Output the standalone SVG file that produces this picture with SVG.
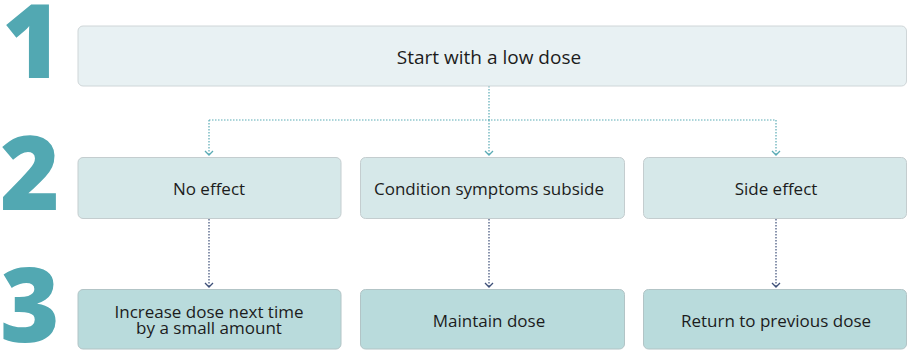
<svg xmlns="http://www.w3.org/2000/svg" width="909" height="350" viewBox="0 0 909 350">
<defs>
<style>
.num{font-family:"Open Sans","Noto Sans",sans-serif;font-weight:800;font-size:102px;fill:#52a8b2}
.lbl{font-family:"Open Sans","Noto Sans",sans-serif;font-weight:500;font-size:17px;fill:#1c1c1c;text-anchor:middle}
.big{font-size:19px}
.b1{fill:#e8f1f3;stroke:#cfd6d8;stroke-width:1}
.b2{fill:#d6e8e9;stroke:#c4cdcf;stroke-width:1}
.b3{fill:#b9dbdc;stroke:#b2c4c6;stroke-width:1}
.ct{fill:none;stroke:#5aabb5;stroke-width:1.2;stroke-dasharray:1.5 1.5}
.cn{fill:none;stroke:#3d4f78;stroke-width:1.2;stroke-dasharray:1.5 1.5}
</style>
<marker id="at" markerWidth="8" markerHeight="10" refX="6" refY="5" orient="auto" markerUnits="userSpaceOnUse" viewBox="0 0 8 10">
<path d="M2,1 L6,5 L2,9" fill="none" stroke="#5aabb5" stroke-width="1.3"/>
</marker>
<marker id="an" markerWidth="8" markerHeight="10" refX="6" refY="5" orient="auto" markerUnits="userSpaceOnUse" viewBox="0 0 8 10">
<path d="M2,1 L6,5 L2,9" fill="none" stroke="#3d4f78" stroke-width="1.3"/>
</marker>
</defs>
<g id="steps">
<text class="num" x="2" y="78">1</text>
<text class="num" x="0" y="210">2</text>
<text class="num" x="0" y="342">3</text>
</g>
<g id="connectors">
<path class="ct" d="M489,86 V120"/>
<path class="ct" d="M209,120 H776"/>
<path class="ct" d="M209,120 V155" marker-end="url(#at)"/>
<path class="ct" d="M489,120 V155" marker-end="url(#at)"/>
<path class="ct" d="M776,120 V155" marker-end="url(#at)"/>
<path class="cn" d="M209,219 V287" marker-end="url(#an)"/>
<path class="cn" d="M489,219 V287" marker-end="url(#an)"/>
<path class="cn" d="M776,219 V287" marker-end="url(#an)"/>
</g>
<g id="start">
<rect class="b1" x="78" y="26" width="828.5" height="60" rx="5"/>
<text class="lbl big" x="489" y="64">Start with a low dose</text>
</g>
<g id="no-effect">
<rect class="b2" x="78" y="157.5" width="263" height="61" rx="5"/>
<text class="lbl" x="209" y="195">No effect</text>
</g>
<g id="subside">
<rect class="b2" x="360.5" y="157.5" width="264" height="61" rx="5"/>
<text class="lbl" x="489" y="195">Condition symptoms subside</text>
</g>
<g id="side-effect">
<rect class="b2" x="643.5" y="157.5" width="263" height="61" rx="5"/>
<text class="lbl" x="776" y="195">Side effect</text>
</g>
<g id="increase">
<rect class="b3" x="78" y="289.5" width="263" height="59.5" rx="5"/>
<text class="lbl" x="209" y="318">Increase dose next time</text>
<text class="lbl" x="209" y="334">by a small amount</text>
</g>
<g id="maintain">
<rect class="b3" x="360.5" y="289.5" width="264" height="59.5" rx="5"/>
<text class="lbl" x="489" y="327">Maintain dose</text>
</g>
<g id="return">
<rect class="b3" x="643.5" y="289.5" width="263" height="59.5" rx="5"/>
<text class="lbl" x="776" y="327">Return to previous dose</text>
</g>
</svg>
